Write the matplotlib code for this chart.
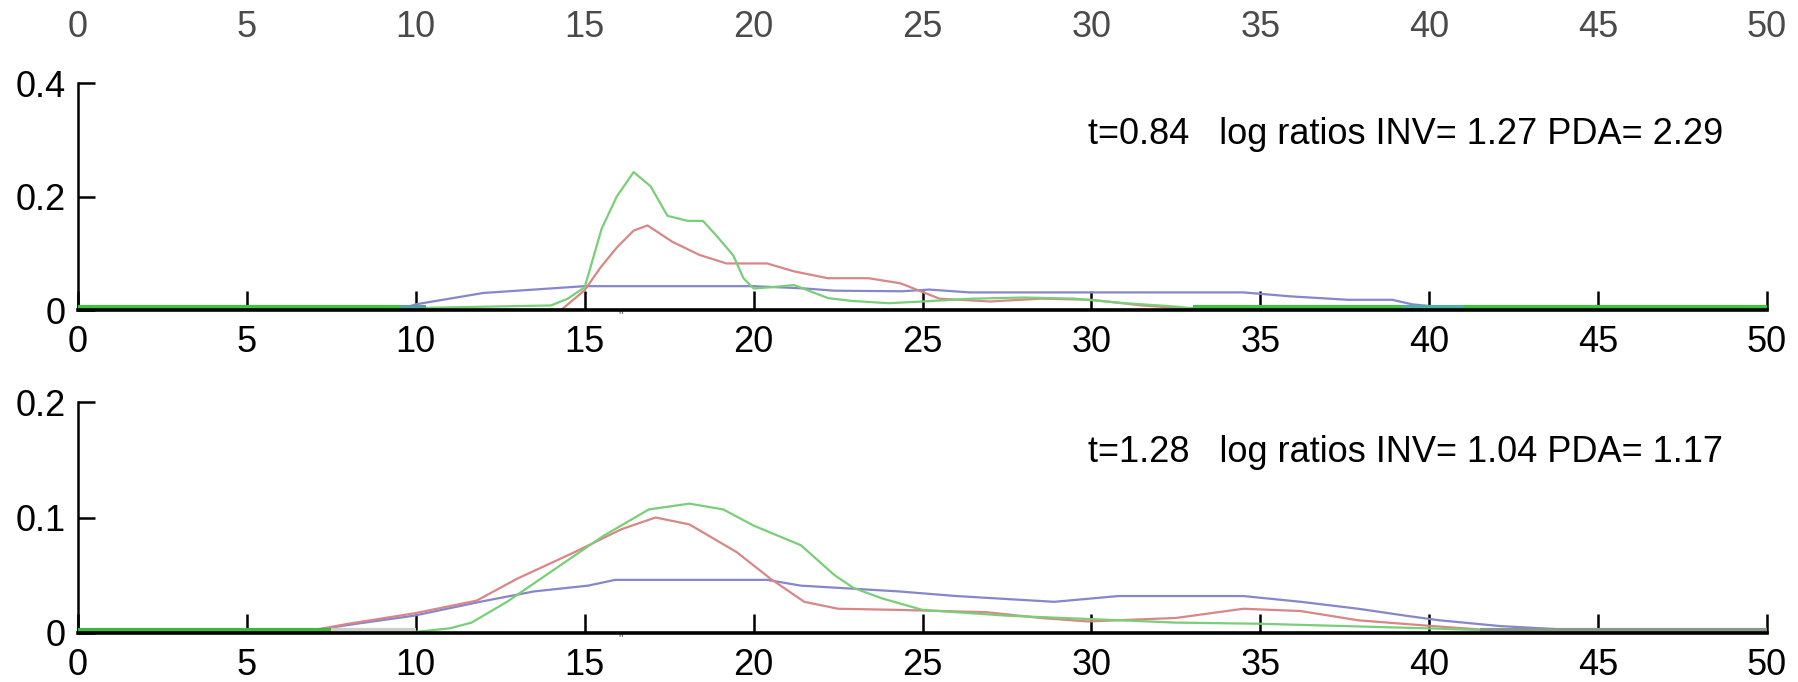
import matplotlib
matplotlib.use('Agg')
import matplotlib.pyplot as plt
import matplotlib.transforms as mtransforms

# ---- data ----
x_ticks = [0, 5, 10, 15, 20, 25, 30, 35, 40, 45, 50]

# panel 1: t=0.84
green_top_x = [0, 9.5, 14, 14.5, 15, 15.5, 15.95, 16.45, 16.95, 17.45, 18.05, 18.5, 18.9,
               19.4, 19.7, 20.0, 20.5, 21.2, 22.2, 22.9, 24, 25, 26.5, 28, 29.5, 31, 32.5, 33, 50]
green_top_y = [0.003, 0.003, 0.008, 0.02, 0.04, 0.143, 0.20, 0.243, 0.218, 0.166, 0.157, 0.157, 0.131,
               0.096, 0.056, 0.038, 0.04, 0.044, 0.021, 0.016, 0.012, 0.015, 0.02, 0.022, 0.02, 0.012, 0.006, 0.003, 0.003]
red_top_x = [0, 14.3, 15, 15.47, 15.95, 16.45, 16.86, 17.6, 18.4, 19.2, 20.4, 21.2, 22.2, 23.4,
             24.35, 25.5, 27, 28.5, 30, 31.5, 33, 34, 50]
red_top_y = [0, 0, 0.035, 0.075, 0.11, 0.14, 0.149, 0.12, 0.097, 0.082, 0.082, 0.068, 0.056, 0.056,
             0.047, 0.02, 0.015, 0.02, 0.018, 0.008, 0.002, 0, 0]
blue_top_x = [0, 9.5, 10, 11, 12, 13, 14, 15, 17, 20, 21.5, 22.4, 24.4, 25.2, 26.4, 30, 34.5,
              35.9, 37.6, 38.9, 39.5, 40.5, 41, 50]
blue_top_y = [0, 0, 0.01, 0.02, 0.03, 0.034, 0.038, 0.042, 0.042, 0.042, 0.038, 0.034, 0.033, 0.036, 0.031, 0.031, 0.031,
              0.024, 0.018, 0.018, 0.01, 0.004, 0.002, 0]

# panel 2: t=1.28
green_bot_x = [0, 7.5, 10, 11, 11.65, 12.7, 14.0, 15.55, 16.9, 18.1, 19.1, 20.0, 21.4, 22.4,
               22.96, 23.8, 25, 27.5, 30, 32.5, 35, 37.5, 40, 42, 50]
green_bot_y = [0.002, 0.002, 0.001, 0.004, 0.009, 0.027, 0.053, 0.084, 0.107, 0.112, 0.107, 0.093, 0.076, 0.05,
               0.039, 0.03, 0.02, 0.015, 0.012, 0.009, 0.008, 0.006, 0.004, 0.002, 0.002]
red_bot_x = [0, 6.5, 8, 9.95, 11.8, 13.0, 14.7, 16.1, 17.1, 18.1, 19.5, 20.5, 21.5, 22.5, 24.3,
             26.9, 28.5, 29.9, 32.5, 34.5, 36.2, 37.9, 40.1, 42, 44, 50]
red_bot_y = [0, 0, 0.008, 0.017, 0.028, 0.047, 0.07, 0.09, 0.1, 0.094, 0.07, 0.047, 0.027, 0.021, 0.02,
             0.018, 0.013, 0.01, 0.013, 0.021, 0.019, 0.011, 0.006, 0.002, 0, 0]
blue_bot_x = [0, 6.5, 8, 9.95, 11.9, 13.5, 15.1, 15.9, 20.4, 21.4, 24.3, 26.0, 28.9, 30.8, 34.5,
              36.2, 37.9, 39.3, 40.3, 42.1, 44, 50]
blue_bot_y = [0, 0, 0.007, 0.015, 0.027, 0.036, 0.041, 0.046, 0.046, 0.041, 0.036, 0.032, 0.027, 0.032, 0.032,
              0.027, 0.021, 0.015, 0.011, 0.006, 0.003, 0.002]

# segments where a curve sits on the axis (drawn as a thicker strip)
floor_top = [(0, 9.5, '#3ec43e'), (9.5, 10.3, '#5aa0a0'), (33, 39.2, '#3ec43e'),
             (39.2, 41, '#4fb0a0'), (41, 50, '#3ec43e')]
floor_bot = [(0, 7.5, '#3cb83c'), (7.5, 10, '#c8d0c8'), (41.5, 50, '#8a9a8a')]

labels_top = ['t=0.84   log ratios INV= 1.27 PDA= 2.29']
labels_bot = ['t=1.28   log ratios INV= 1.04 PDA= 1.17']
text_x = 29.9
text_y_top = 0.292
text_y_bot = 0.148
mark_x = 16.05

ylim_top = 0.4
ylim_bot = 0.2
yticks_top = [0, 0.2, 0.4]
ytick_labels_top = ['0', '0.2', '0.4']
yticks_bot = [0, 0.1, 0.2]
ytick_labels_bot = ['0', '0.1', '0.2']

c_green = '#78cf78'
c_red = '#d98686'
c_blue = '#8686cc'

plt.rcParams['font.family'] = ['Liberation Sans', 'DejaVu Sans']
plt.rcParams['font.size'] = 26

W, H = 1798, 682
fig = plt.figure(figsize=(W / 100, H / 100), dpi=100)

left = 78 / W
width = (1767 - 78) / W


def style_axes(ax, ymax, yt, ytl):
    ax.set_xlim(0, 50)
    ax.set_ylim(0, ymax)
    ax.spines['top'].set_visible(False)
    ax.spines['right'].set_visible(False)
    ax.spines['bottom'].set_linewidth(2.6)
    ax.spines['left'].set_linewidth(1.8)
    ax.spines['bottom'].set_zorder(5)
    ax.set_xticks(x_ticks)
    ax.set_xticklabels([str(v) for v in x_ticks])
    ax.set_yticks(yt)
    ax.set_yticklabels(ytl)
    ax.tick_params(axis='x', direction='in', length=13.5, width=1.8, pad=11,
                   labelsize=26, top=False)
    ax.tick_params(axis='y', direction='in', length=12, width=1.8, pad=9,
                   labelsize=26, right=False)


def draw_panel(ax, curves, floors, label, ty):
    for xs, ys, c in curves:
        ax.plot(xs, ys, color=c, lw=1.6, solid_joinstyle='round', zorder=3)
    lift = mtransforms.offset_copy(ax.transData, fig=fig, y=3, units='dots')
    for x0, x1, c in floors:
        ax.plot([x0, x1], [0, 0], color=c, lw=3.0, transform=lift, zorder=4,
                solid_capstyle='butt')
    ax.text(text_x, ty, label, ha='left', va='baseline', fontsize=26)
    ax.text(mark_x, 0, '"', ha='center', va='top', fontsize=9, color='#555555')


# ghost axis: tick labels of a panel that is cut off above the picture
ax0 = fig.add_axes([left, 1 + 5 / H, width, 0.05])
ax0.set_xlim(0, 50)
ax0.set_xticks(x_ticks)
ax0.set_xticklabels([str(v) for v in x_ticks])
ax0.set_yticks([])
for s in ax0.spines.values():
    s.set_visible(False)
ax0.patch.set_visible(False)
ax0.tick_params(axis='x', length=0, pad=11, labelsize=26, labelcolor='#4a4a4a')

ax1 = fig.add_axes([left, 1 - 310 / H, width, (310 - 83) / H])
style_axes(ax1, ylim_top, yticks_top, ytick_labels_top)
draw_panel(ax1, [(blue_top_x, blue_top_y, c_blue),
                 (red_top_x, red_top_y, c_red),
                 (green_top_x, green_top_y, c_green)],
           floor_top, labels_top[0], text_y_top)

ax2 = fig.add_axes([left, 1 - 633 / H, width, (633 - 402) / H])
style_axes(ax2, ylim_bot, yticks_bot, ytick_labels_bot)
draw_panel(ax2, [(blue_bot_x, blue_bot_y, c_blue),
                 (red_bot_x, red_bot_y, c_red),
                 (green_bot_x, green_bot_y, c_green)],
           floor_bot, labels_bot[0], text_y_bot)

fig.savefig('out.png', dpi=100)
